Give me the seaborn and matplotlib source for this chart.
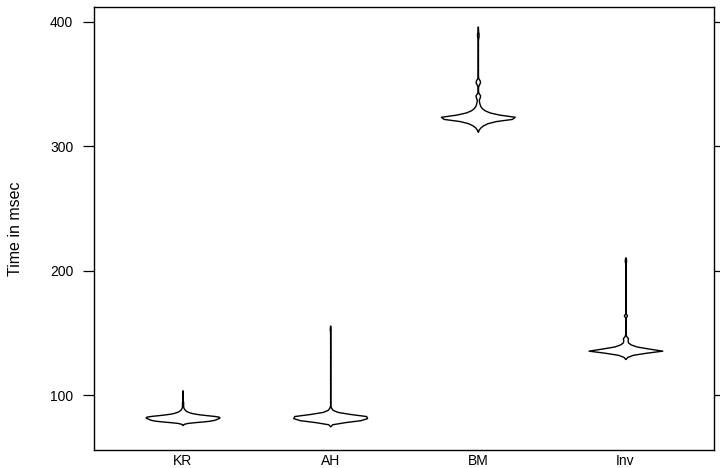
import numpy as np
import pandas as pd
import matplotlib
matplotlib.use("Agg")
import matplotlib.pyplot as plt
import seaborn as sns

# ---- data: frequency tables (value in msec, count) ----
categories = ["KR", "AH", "BM", "Inv"]

kr_values = [77, 78, 79, 80, 81, 82, 83, 84, 85, 86, 87, 88, 89, 90, 91, 92, 93, 94, 95, 96, 97, 98, 99, 100, 101, 102, 103]
kr_counts = [3, 20, 110, 150, 160, 175, 180, 110, 60, 35, 20, 12, 7, 4, 3, 2, 3, 3, 2, 1, 1, 1, 1, 1, 1, 1, 1]

ah_values = [76, 77, 78, 79, 80, 81, 82, 83, 84, 85, 86, 87, 88, 89, 90, 92, 95, 98, 101, 104, 107, 110, 113,
             116, 119, 122, 125, 128, 131, 134, 137, 140, 143, 146, 149, 152, 153, 154, 155]
ah_counts = [2, 10, 40, 120, 150, 170, 185, 190, 150, 90, 50, 25, 12, 8, 4, 1, 1, 1, 1, 1, 1, 1, 1,
             1, 1, 1, 1, 1, 1, 1, 1, 1, 1, 1, 1, 2, 2, 2, 1]

bm_values = [313, 314, 315, 316, 317, 318, 319, 320, 321, 322, 323, 324, 325, 326, 327, 328, 329, 330, 331, 332,
             333, 334, 335, 336, 337, 338, 339, 340, 341, 342, 343, 345, 347, 349, 350, 351, 352, 353, 354, 356,
             359, 362, 365, 368, 371, 374, 377, 380, 383, 386, 388, 389, 390, 391, 393, 395]
bm_counts = [1, 3, 5, 8, 12, 17, 24, 34, 50, 75, 110, 80, 55, 40, 28, 20, 15, 11, 8, 6,
             5, 4, 3, 3, 2, 2, 3, 7, 6, 3, 1, 1, 1, 1, 3, 5, 6, 5, 2, 1,
             1, 1, 1, 1, 1, 1, 1, 1, 1, 1, 2, 2, 2, 2, 1, 1]

inv_values = [130, 131, 132, 133, 134, 135, 136, 137, 138, 139, 140, 141, 142, 143, 144, 145, 146, 147, 148, 150,
              153, 156, 159, 162, 164, 166, 169, 172, 175, 178, 181, 184, 187, 190, 193, 196, 199, 202, 205, 207,
              208, 209, 210]
inv_counts = [2, 6, 14, 30, 55, 90, 120, 85, 55, 35, 22, 14, 9, 6, 6, 8, 8, 3, 2, 1,
              1, 1, 1, 1, 7, 1, 1, 1, 1, 1, 1, 1, 1, 1, 1, 1, 1, 1, 1, 2,
              2, 2, 1]

y_ticks = [100, 200, 300, 400]
y_label = "Time in msec"

tables = {"KR": (kr_values, kr_counts), "AH": (ah_values, ah_counts),
          "BM": (bm_values, bm_counts), "Inv": (inv_values, inv_counts)}
frames = []
for cat in categories:
    v, c = tables[cat]
    frames.append(pd.DataFrame({"alg": cat, "time": np.repeat(np.array(v, float), c)}))
df = pd.concat(frames, ignore_index=True)


def nrd0(kde):
    # R's default bandwidth rule (bw.nrd0) expressed as a scipy factor
    x = kde.dataset.ravel()
    sd = x.std(ddof=1)
    q75, q25 = np.percentile(x, [75, 25])
    lo = min(sd, (q75 - q25) / 1.34)
    h = 0.9 * lo * len(x) ** (-0.2)
    return h / sd


sns.set_style("white")
plt.rcParams["font.family"] = ["Liberation Sans", "DejaVu Sans"]
plt.rcParams["text.color"] = "black"
plt.rcParams["axes.labelcolor"] = "black"
plt.rcParams["xtick.color"] = "black"
plt.rcParams["ytick.color"] = "black"

fig = plt.figure(figsize=(7.2, 4.68), dpi=100)
ax = fig.add_axes([94 / 720, 1 - 450 / 468, 620 / 720, 443 / 468])

sns.violinplot(data=df, x="alg", y="time", order=categories, inner=None,
               color="white", saturation=1, linecolor="black", linewidth=1.0,
               width=0.5, density_norm="width", cut=1.5, gridsize=50,
               bw_method=nrd0, ax=ax)

ax.set_xlim(-0.6, 3.6)
ax.set_ylim(56, 412)
ax.set_yticks(y_ticks)
ax.set_yticklabels([str(t) for t in y_ticks])
ax.set_xlabel("")
ax.set_ylabel(y_label, fontsize=11.5, color="black")
ax.yaxis.set_label_coords(-0.1145, 0.5)

for sp in ax.spines.values():
    sp.set_visible(True)
    sp.set_color("black")
    sp.set_linewidth(1.0)

ax.tick_params(axis="y", which="both", left=True, right=True, labelleft=True, labelright=False,
               direction="out", length=8, width=0.9, color="black", labelcolor="black",
               labelsize=10, pad=7)
ax.tick_params(axis="x", length=0, labelsize=10, pad=3, labelcolor="black")

fig.savefig("out.png", dpi=100)
